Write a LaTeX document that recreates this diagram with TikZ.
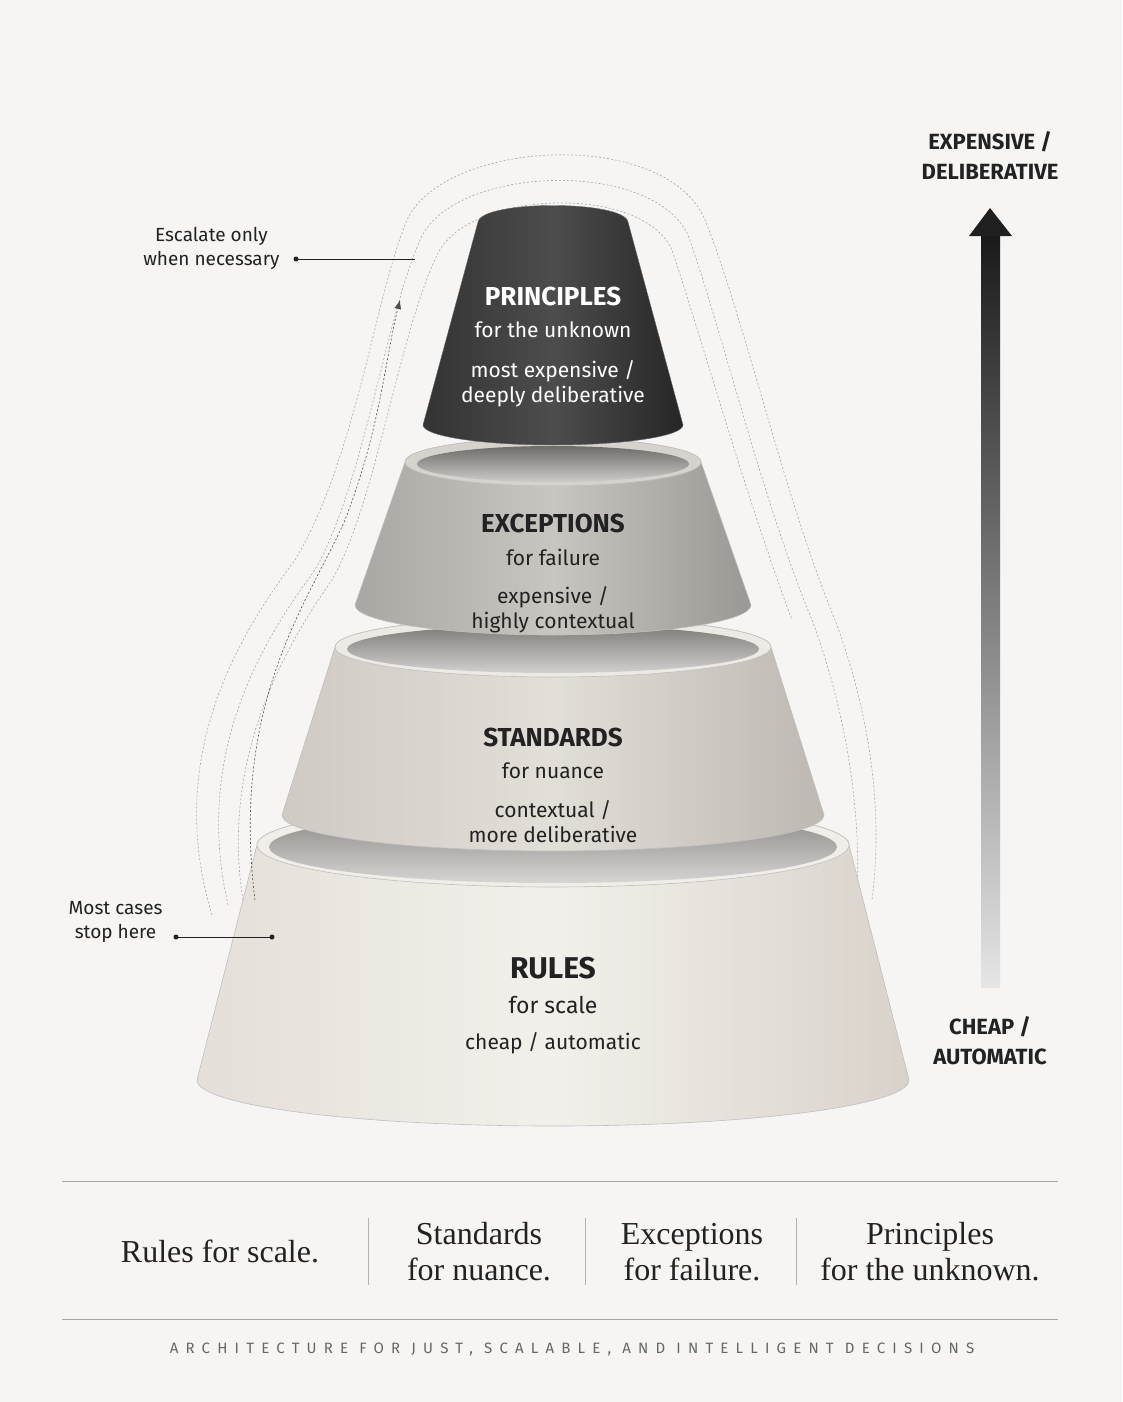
\documentclass[tikz,border=0pt]{standalone}
\usepackage{fontspec}
\setmainfont{Liberation Serif}
\newfontfamily\sans{Fira Sans}
\usetikzlibrary{arrows.meta}
\definecolor{bg}{HTML}{F6F5F3}
\definecolor{ink}{HTML}{222222}
\tikzset{
 lab/.style={font=\sans\fontsize{21}{25}\selectfont,align=center},
 ttl/.style={font=\sans\bfseries\fontsize{26}{30}\selectfont},
 note/.style={font=\sans\fontsize{19}{24}\selectfont,align=center,text=ink},
 dots/.style={gray!70,dash pattern=on 2pt off 2pt,line width=0.6pt},
 bot/.style={font=\fontsize{32}{36}\selectfont,align=center,text=ink},
}
% cx ytop rxt ryt ybot rxb ryb ; colours sidec midc rightc topc innc
\newcommand{\frust}[7]{%
 \shade[left color=sidec,right color=rightc,middle color=midc,draw=black!25,line width=0.6pt]
  (#1-#3,#2) -- (#1-#6,#5) arc[start angle=180,end angle=0,x radius=#6,y radius=#7]
  -- (#1+#3,#2) arc[start angle=0,end angle=-180,x radius=#3,y radius=#4] -- cycle;
 \fill[topc,draw=black!25,line width=0.6pt] (#1,#2) ellipse[x radius=#3,y radius=#4];
 \shade[top color=innc,bottom color=innc!35!white] (#1,#2+2) ellipse[x radius=#3-12,y radius=#4-6];
}
\begin{document}
\begin{tikzpicture}[x=1pt,y=-1pt]
\fill[bg] (0,0) rectangle (1122,1402);
\useasboundingbox (0,0) rectangle (1122,1402);
% dotted halos
\draw[dots] (212,915) .. controls (165,760) and (235,640) .. (295,560) .. controls (355,460) and (375,300) .. (405,225) .. controls (435,140) and (665,125) .. (705,220) .. controls (745,320) and (785,500) .. (835,620) .. controls (865,700) and (885,800) .. (872,900);
\draw[dots] (228,905) .. controls (195,760) and (255,650) .. (315,570) .. controls (365,480) and (385,320) .. (420,240) .. controls (452,165) and (652,158) .. (688,235) .. controls (722,330) and (762,500) .. (812,620) .. controls (842,700) and (862,800) .. (857,900);
\draw[dots] (243,900) .. controls (222,770) and (275,660) .. (332,580) .. controls (377,500) and (397,340) .. (437,255) .. controls (467,190) and (642,183) .. (672,250) .. controls (702,340) and (747,500) .. (792,620);
% tiers
\definecolor{sidec}{HTML}{E4DFD8}\definecolor{midc}{HTML}{F3F0EB}\definecolor{rightc}{HTML}{D8D2CA}\definecolor{topc}{HTML}{F1EEE9}\definecolor{innc}{HTML}{8A8783}
\frust{553}{845}{296}{42}{1080}{356}{46}
\definecolor{sidec}{HTML}{CFCAC3}\definecolor{midc}{HTML}{E2DED8}\definecolor{rightc}{HTML}{BDB8B1}\definecolor{topc}{HTML}{EDEAE5}\definecolor{innc}{HTML}{7E7B77}
\frust{553}{647}{218}{30}{815}{271}{36}
\definecolor{sidec}{HTML}{A9A7A3}\definecolor{midc}{HTML}{C9C6C1}\definecolor{rightc}{HTML}{9A9894}\definecolor{topc}{HTML}{D6D3CE}\definecolor{innc}{HTML}{6E6C69}
\frust{553}{462}{148}{24}{605}{198}{30}
\shade[left color=black!80,right color=black!85,middle color=black!70,draw=black!60]
 (478,222) .. controls (482,200) and (624,200) .. (628,222) -- (683,425) arc[start angle=0,end angle=180,x radius=130,y radius=20] -- cycle;
% texts
\node[ttl,text=white] (pt) at (553,296) {PRINCIPLES};
\node[lab,text=white] (ps) at (553,330) {for the unknown};
\node[lab,text=white] (pc) at (553,384) {most expensive /\\deeply deliberative};
\node[ttl,text=ink] (et) at (553,523) {EXCEPTIONS};
\node[lab,text=ink] (es) at (553,557) {for failure};
\node[lab,text=ink] (ec) at (553,610) {expensive /\\highly contextual};
\node[ttl,text=ink] (st) at (553,737) {STANDARDS};
\node[lab,text=ink] (ss) at (553,771) {for nuance};
\node[lab,text=ink] (sc) at (553,822) {contextual /\\more deliberative};
\node[ttl,text=ink,font=\sans\bfseries\fontsize{30}{34}\selectfont] (rt) at (553,968) {RULES};
\node[lab,text=ink,font=\sans\fontsize{23}{27}\selectfont] (rs) at (553,1005) {for scale};
\node[lab,text=ink] (rc) at (553,1043) {cheap / automatic};
% annotations
\node[note,anchor=east] (esc) at (283,248) {Escalate only\\when necessary};
\coordinate (escE) at (415,259);
\fill[ink] (296,259) circle (2.5);
\draw[ink,line width=0.6pt] (296,259) -- (escE);
\coordinate (a1) at (400,300);
\draw[dots,ink!80,-{Latex[length=9pt]}] (255,900) .. controls (230,700) and (310,600) .. (345,520) .. controls (380,430) and (385,360) .. (a1);
\node[note,anchor=east] (most) at (166,922) {Most cases\\stop here};
\coordinate (mostE) at (272,937);
\fill[ink] (176,937) circle (2.5);
\fill[ink] (mostE) circle (2.5);
\draw[ink,line width=0.6pt] (176,937) -- (mostE);
% cost arrow
\shade[top color=black!90,bottom color=black!10] (981,235) rectangle (1000,987);
\fill[black!88] (969,236) -- (990,208) -- (1012,236) -- cycle;
\node[font=\sans\bfseries\fontsize{22}{30}\selectfont,align=center,text=ink] (exp) at (990,156) {EXPENSIVE /\\DELIBERATIVE};
\node[font=\sans\bfseries\fontsize{22}{30}\selectfont,align=center,text=ink] (chp) at (990,1041) {CHEAP /\\AUTOMATIC};
% bottom
\draw[gray!70,line width=0.8pt] (62,1181) -- (1058,1181);
\draw[gray!70,line width=0.8pt] (62,1319) -- (1058,1319);
\foreach \x in {368,585,796} \draw[gray!60,line width=0.8pt] (\x,1218) -- (\x,1285);
\node[bot] (b1) at (220,1251) {Rules for scale.};
\node[bot] (b2) at (479,1252) {Standards\\for nuance.};
\node[bot] (b3) at (692,1252) {Exceptions\\for failure.};
\node[bot] (b4) at (930,1252) {Principles\\for the unknown.};
\node[font=\sans\fontsize{15}{17}\selectfont,text=gray!80!black] (ft) at (572,1349) {\addfontfeatures{LetterSpace=48}ARCHITECTURE FOR JUST, SCALABLE, AND INTELLIGENT DECISIONS};
\end{tikzpicture}
\end{document}
